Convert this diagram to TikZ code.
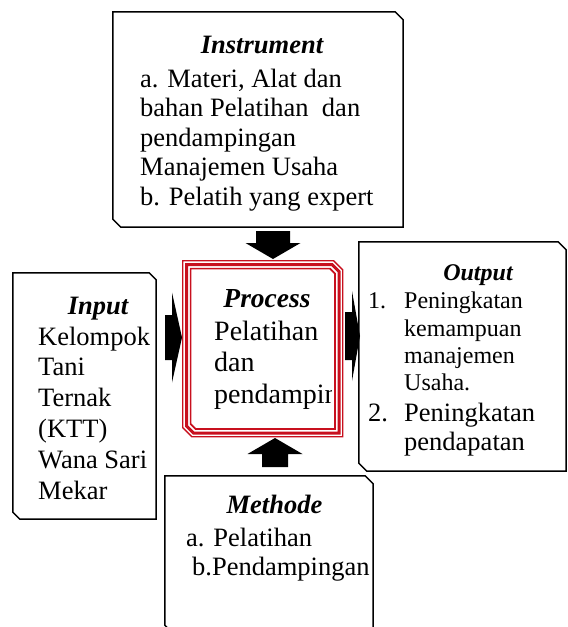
\documentclass[tikz,border=0pt]{standalone}
\usepackage{fontspec}
\setmainfont{Liberation Serif}
\usepackage{xcolor}
\usetikzlibrary{calc}
\definecolor{procred}{RGB}{200,16,30}

% frame with the top right and bottom left corners cut off
\newcommand{\snipframe}[4]{% style, node, inset, cut
  \draw[#1] ([shift={(#3,-#3)}]#2.north west)
    -- ([shift={(-#3-#4,-#3)}]#2.north east)
    -- ([shift={(-#3,-#3-#4)}]#2.north east)
    -- ([shift={(-#3,#3)}]#2.south east)
    -- ([shift={(#3+#4,#3)}]#2.south west)
    -- ([shift={(#3,#3+#4)}]#2.south west)
    -- cycle;}
% thick filled arrow
\newcommand{\blockarrow}[5]{% from, to, half shaft, half head, head length
  \coordinate (ba-h) at ($(#2)!#5!(#1)$);
  \fill ($(#1)!#3!90:(#2)$) -- ($(ba-h)!#3!-90:(#1)$) -- ($(ba-h)!#4!-90:(#1)$)
    -- (#2) -- ($(ba-h)!#4!90:(#1)$) -- ($(ba-h)!#3!90:(#1)$)
    -- ($(#1)!#3!-90:(#2)$) -- cycle;}

\begin{document}
\begin{tikzpicture}[x=1pt,y=-1pt]
\tikzset{
    box/.style={%
        rectangle, inner sep=0pt
        },
    frame/.style={%
        draw=black, line width=1.5pt
        },
    procline/.style={%
        draw=procred
        },
    title/.style={%
        font=\fontsize{26.5}{30}\selectfont\bfseries\itshape,
        anchor=base, inner sep=0pt
        },
    body/.style={%
        font=\fontsize{26.5}{30}\selectfont,
        anchor=base west, inner sep=0pt
        },
}
\useasboundingbox (0,0) rectangle (568,627);
%%%BOXES
\node[box, minimum width=290pt, minimum height=215pt] (instr) at (258,119.5) {};
\node[box, minimum width=143pt, minimum height=246pt] (inp) at (84.5,396) {};
\node[box, minimum width=159.5pt, minimum height=175.5pt] (proc) at (262.75,348.75) {};
\node[box, minimum width=207pt, minimum height=229pt] (outp) at (462.5,356.5) {};
\node[box, minimum width=208pt, minimum height=157pt] (meth) at (269,554.5) {};
\snipframe{frame}{instr}{0pt}{8pt}
\snipframe{frame}{inp}{0pt}{7pt}
\snipframe{frame}{outp}{0pt}{8pt}
\snipframe{frame}{meth}{0pt}{8pt}
\snipframe{procline, line width=1.3pt}{proc}{0pt}{9pt}
\snipframe{procline, line width=3pt}{proc}{3.7pt}{7pt}
\snipframe{procline, line width=1.7pt}{proc}{7.8pt}{5pt}
%%%TEXTS
\node[title] (instr-t) at (262,53) {Instrument};
\foreach \y/\txt [count=\i] in {87/{a. Materi, Alat dan},116.5/{bahan Pelatihan\ \ dan},
    146/pendampingan,175.5/{Manajemen Usaha},205/{b. Pelatih yang expert}}
  \node[body] (instr-\i) at (140,\y) {\txt};
\node[title] (inp-t) at (98,314) {Input};
\foreach \y/\txt [count=\i] in {345/Kelompok,375.8/Tani,406.6/Ternak,437.4/(KTT),
    468.2/{Wana Sari},499/Mekar}
  \node[body] (inp-\i) at (38,\y) {\txt};
\node[title, font=\fontsize{27.5}{31}\selectfont\bfseries\itshape] (proc-t) at (267,307) {Process};
\begin{scope}
\clip (190,270) rectangle (331,430);
\foreach \y/\txt [count=\i] in {340/Pelatihan,371.5/dan,403/pendampingan}
  \node[body, font=\fontsize{28}{31}\selectfont] (proc-\i) at (214,\y) {\txt};
\end{scope}
\node[title, font=\fontsize{24}{27}\selectfont\bfseries\itshape] (outp-t) at (478,280) {Output};
\node[body, font=\fontsize{24}{27}\selectfont] (outp-n1) at (368,308) {1.};
\foreach \y/\txt [count=\i] in {308/Peningkatan,336/kemampuan,363.3/manajemen,390/Usaha.}
  \node[body, font=\fontsize{24}{27}\selectfont] (outp-a\i) at (404,\y) {\txt};
\node[body] (outp-n2) at (368,421.5) {2.};
\foreach \y/\txt [count=\i] in {421.5/Peningkatan,450.5/pendapatan}
  \node[body] (outp-b\i) at (404,\y) {\txt};
\node[title] (meth-t) at (274.5,513.5) {Methode};
\node[body] (meth-1) at (186,546) {a. Pelatihan};
\node[body] (meth-2) at (192,575) {b.Pendampingan};
%%%ARROWS
\coordinate (topA) at (273,231);
\coordinate (topB) at (273,259);
\coordinate (botA) at (275,467);
\coordinate (botB) at (275,438);
\coordinate (leftA) at (165,337.5);
\coordinate (leftB) at (182,337.5);
\coordinate (rightA) at (345,336);
\coordinate (rightB) at (360,336);
\blockarrow{topA}{topB}{17pt}{27.5pt}{16pt}
\blockarrow{botA}{botB}{13pt}{27.5pt}{16pt}
\blockarrow{leftA}{leftB}{22.5pt}{45pt}{10pt}
\blockarrow{rightA}{rightB}{24pt}{45pt}{8pt}
\end{tikzpicture}
\end{document}
